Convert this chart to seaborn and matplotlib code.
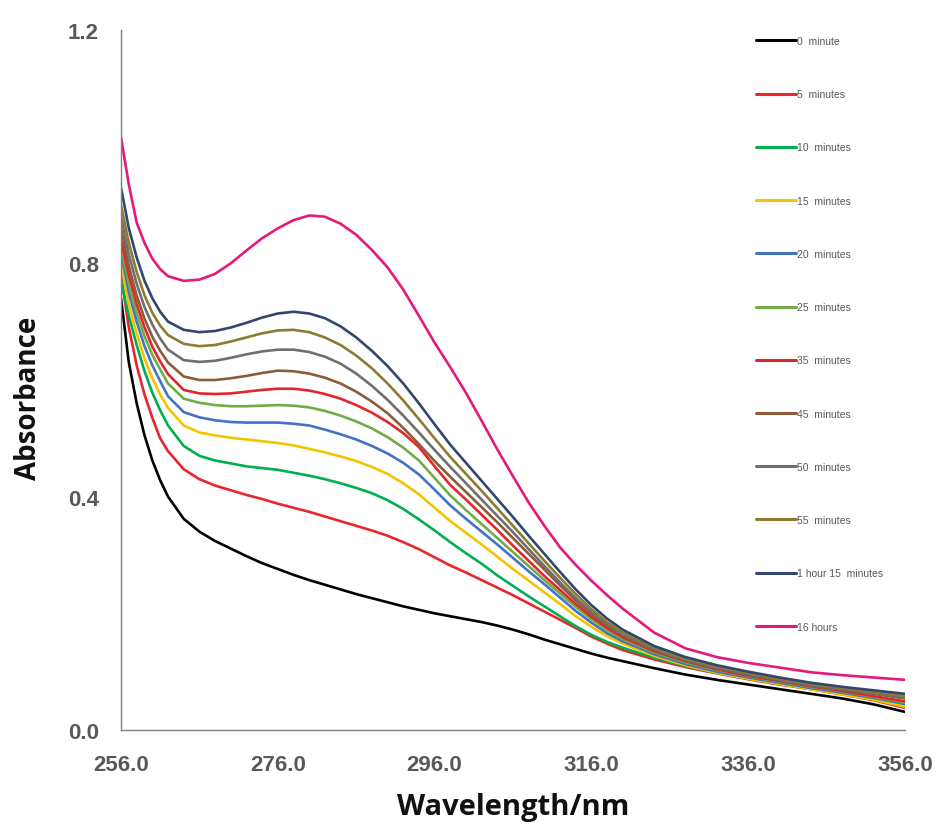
import matplotlib
matplotlib.use("Agg")
import matplotlib.pyplot as plt
import seaborn as sns
import pandas as pd

# Wavelengths (nm) at which absorbance was recorded
wavelength = [256, 257, 258, 259, 260, 261, 262, 264, 266, 268, 270, 272, 274, 276,
              278, 280, 282, 284, 286, 288, 290, 292, 294, 296, 298, 300, 302, 304,
              306, 308, 310, 312, 314, 316, 318, 320, 324, 328, 332, 336, 340, 344,
              348, 352, 356]

labels = ["0  minute", "5  minutes", "10  minutes", "15  minutes", "20  minutes",
          "25  minutes", "35  minutes", "45  minutes", "50  minutes", "55  minutes",
          "1 hour 15  minutes", "16 hours"]

colors = ["#000000", "#E8262E", "#00B050", "#F5C400", "#4472C4", "#70AD47",
          "#E3262B", "#8C5B3A", "#6F6F6F", "#8D7B32", "#33466E", "#E6197A"]

abs_0min = [0.74, 0.63, 0.56, 0.505, 0.462, 0.428, 0.400, 0.362, 0.340, 0.324, 0.311, 0.298,
            0.286, 0.276, 0.266, 0.257, 0.249, 0.241, 0.233, 0.226, 0.219, 0.212, 0.206,
            0.200, 0.195, 0.190, 0.185, 0.179, 0.172, 0.164, 0.155, 0.147, 0.139, 0.131,
            0.124, 0.118, 0.106, 0.095, 0.086, 0.078, 0.070, 0.062, 0.054, 0.044, 0.031]
abs_5min = [0.78, 0.69, 0.625, 0.575, 0.535, 0.500, 0.478, 0.447, 0.430, 0.419, 0.411, 0.403,
            0.396, 0.388, 0.381, 0.374, 0.366, 0.358, 0.350, 0.342, 0.333, 0.322, 0.310,
            0.296, 0.282, 0.270, 0.257, 0.244, 0.231, 0.217, 0.203, 0.189, 0.175, 0.160,
            0.148, 0.137, 0.121, 0.108, 0.097, 0.087, 0.078, 0.070, 0.061, 0.051, 0.038]
abs_10min = [0.77, 0.71, 0.66, 0.615, 0.578, 0.548, 0.522, 0.487, 0.470, 0.462, 0.457, 0.452,
             0.449, 0.446, 0.441, 0.436, 0.430, 0.423, 0.415, 0.406, 0.394, 0.379, 0.361,
             0.342, 0.322, 0.303, 0.285, 0.265, 0.247, 0.229, 0.212, 0.195, 0.178, 0.163,
             0.151, 0.141, 0.124, 0.110, 0.098, 0.088, 0.079, 0.071, 0.063, 0.054, 0.043]
abs_15min = [0.80, 0.73, 0.68, 0.637, 0.603, 0.575, 0.552, 0.522, 0.510, 0.505, 0.501, 0.498,
             0.495, 0.492, 0.488, 0.482, 0.476, 0.469, 0.461, 0.451, 0.439, 0.423, 0.404,
             0.381, 0.358, 0.338, 0.318, 0.297, 0.276, 0.256, 0.236, 0.216, 0.195, 0.177,
             0.161, 0.148, 0.127, 0.111, 0.098, 0.088, 0.079, 0.070, 0.061, 0.052, 0.040]
abs_20min = [0.82, 0.75, 0.70, 0.658, 0.625, 0.598, 0.572, 0.545, 0.536, 0.531, 0.528, 0.527,
             0.527, 0.527, 0.525, 0.522, 0.515, 0.507, 0.498, 0.487, 0.474, 0.458, 0.438,
             0.412, 0.385, 0.362, 0.340, 0.318, 0.295, 0.272, 0.250, 0.227, 0.204, 0.184,
             0.166, 0.152, 0.130, 0.113, 0.100, 0.090, 0.081, 0.072, 0.064, 0.055, 0.045]
abs_25min = [0.83, 0.765, 0.715, 0.675, 0.643, 0.618, 0.594, 0.568, 0.561, 0.557, 0.555, 0.555,
             0.556, 0.557, 0.556, 0.553, 0.547, 0.539, 0.529, 0.517, 0.502, 0.484, 0.462,
             0.432, 0.402, 0.377, 0.353, 0.329, 0.305, 0.281, 0.257, 0.234, 0.211, 0.190,
             0.171, 0.156, 0.133, 0.116, 0.103, 0.092, 0.083, 0.074, 0.066, 0.057, 0.047]
abs_35min = [0.84, 0.78, 0.73, 0.69, 0.657, 0.632, 0.610, 0.583, 0.577, 0.576, 0.577, 0.580,
             0.583, 0.585, 0.585, 0.582, 0.576, 0.568, 0.557, 0.544, 0.528, 0.509, 0.485,
             0.452, 0.420, 0.395, 0.369, 0.343, 0.316, 0.290, 0.264, 0.240, 0.216, 0.194,
             0.175, 0.159, 0.135, 0.118, 0.104, 0.093, 0.084, 0.075, 0.067, 0.058, 0.049]
abs_45min = [0.86, 0.795, 0.745, 0.705, 0.674, 0.650, 0.630, 0.606, 0.600, 0.600, 0.603, 0.607,
             0.612, 0.616, 0.615, 0.611, 0.604, 0.594, 0.580, 0.563, 0.543, 0.518, 0.490,
             0.461, 0.434, 0.408, 0.382, 0.356, 0.329, 0.302, 0.275, 0.248, 0.222, 0.199,
             0.179, 0.162, 0.137, 0.119, 0.106, 0.095, 0.085, 0.076, 0.069, 0.062, 0.054]
abs_50min = [0.88, 0.815, 0.765, 0.725, 0.695, 0.671, 0.652, 0.634, 0.631, 0.633, 0.638, 0.644,
             0.649, 0.652, 0.652, 0.648, 0.640, 0.628, 0.611, 0.590, 0.566, 0.539, 0.510,
             0.480, 0.451, 0.423, 0.395, 0.367, 0.339, 0.310, 0.281, 0.253, 0.226, 0.202,
             0.181, 0.164, 0.139, 0.120, 0.107, 0.096, 0.086, 0.077, 0.070, 0.063, 0.056]
abs_55min = [0.90, 0.835, 0.785, 0.745, 0.715, 0.693, 0.677, 0.662, 0.658, 0.660, 0.666, 0.673,
             0.680, 0.685, 0.686, 0.682, 0.673, 0.660, 0.642, 0.620, 0.594, 0.565, 0.533,
             0.500, 0.468, 0.439, 0.410, 0.380, 0.350, 0.320, 0.290, 0.261, 0.233, 0.207,
             0.185, 0.167, 0.141, 0.122, 0.109, 0.098, 0.088, 0.079, 0.072, 0.065, 0.058]
abs_75min = [0.93, 0.86, 0.81, 0.77, 0.74, 0.717, 0.700, 0.686, 0.682, 0.684, 0.690, 0.698,
             0.707, 0.714, 0.717, 0.714, 0.706, 0.692, 0.673, 0.650, 0.624, 0.594, 0.560,
             0.524, 0.489, 0.458, 0.427, 0.396, 0.365, 0.333, 0.302, 0.271, 0.241, 0.214,
             0.191, 0.172, 0.144, 0.125, 0.111, 0.100, 0.090, 0.081, 0.074, 0.068, 0.062]
abs_16h = [1.016, 0.935, 0.87, 0.835, 0.808, 0.790, 0.778, 0.770, 0.772, 0.782, 0.800, 0.822,
           0.843, 0.860, 0.874, 0.882, 0.880, 0.868, 0.849, 0.823, 0.793, 0.755, 0.710,
           0.664, 0.622, 0.578, 0.530, 0.481, 0.435, 0.390, 0.350, 0.313, 0.283, 0.256,
           0.231, 0.208, 0.167, 0.140, 0.125, 0.115, 0.107, 0.099, 0.094, 0.090, 0.086]

series = [abs_0min, abs_5min, abs_10min, abs_15min, abs_20min, abs_25min, abs_35min,
          abs_45min, abs_50min, abs_55min, abs_75min, abs_16h]

frames = [pd.DataFrame({"Wavelength": wavelength, "Absorbance": vals, "Time": lab})
          for lab, vals in zip(labels, series)]
df = pd.concat(frames, ignore_index=True)

sns.set_theme(style="white")
plt.rcParams["font.family"] = ["Liberation Sans", "DejaVu Sans"]
plt.rcParams["lines.solid_joinstyle"] = "round"

fig = plt.figure(figsize=(9.38, 8.29), dpi=100)
ax = fig.add_axes([121 / 938, 1 - 731 / 829, (905 - 121) / 938, (731 - 31) / 829])

sns.lineplot(data=df, x="Wavelength", y="Absorbance", hue="Time", hue_order=labels,
             palette=dict(zip(labels, colors)), estimator=None, sort=False,
             linewidth=1.9, ax=ax)

ax.set_xlim(256, 356)
ax.set_ylim(0, 1.2)
ax.set_xticks([256, 276, 296, 316, 336, 356])
ax.set_xticklabels(["256.0", "276.0", "296.0", "316.0", "336.0", "356.0"])
ax.set_yticks([0.0, 0.4, 0.8, 1.2])
ax.set_yticklabels(["0.0", "0.4", "0.8", "1.2"])
ax.tick_params(axis="both", length=0, labelsize=16, labelcolor="#595959")
ax.tick_params(axis="x", pad=17)
ax.tick_params(axis="y", pad=16)
for t in ax.get_xticklabels() + ax.get_yticklabels():
    t.set_fontweight("bold")

for side in ("top", "right"):
    ax.spines[side].set_visible(False)
for side in ("left", "bottom"):
    ax.spines[side].set_color("#7F7F7F")
    ax.spines[side].set_linewidth(1.0)

ax.set_xlabel("Wavelength/nm", fontsize=21, fontweight="bold", color="#111111",
              family=["Open Sans", "DejaVu Sans"])
ax.set_ylabel("Absorbance", fontsize=20, fontweight="bold", color="#111111",
              family=["Open Sans", "DejaVu Sans"])
ax.xaxis.set_label_coords(0.5, -0.088)
ax.yaxis.set_label_coords(-0.100, 0.475)

handles, lab = ax.get_legend_handles_labels()
leg = ax.legend(handles, lab, loc="upper left", bbox_to_anchor=(756 / 938, 1 - 37 / 829),
                bbox_transform=fig.transFigure, frameon=False, fontsize=7.5,
                labelcolor="#595959", handlelength=3.8, handletextpad=0.1,
                labelspacing=4.15, borderpad=0, borderaxespad=0)
for line in leg.get_lines():
    line.set_linewidth(2.2)

fig.savefig("out.png", dpi=100, facecolor="white")
